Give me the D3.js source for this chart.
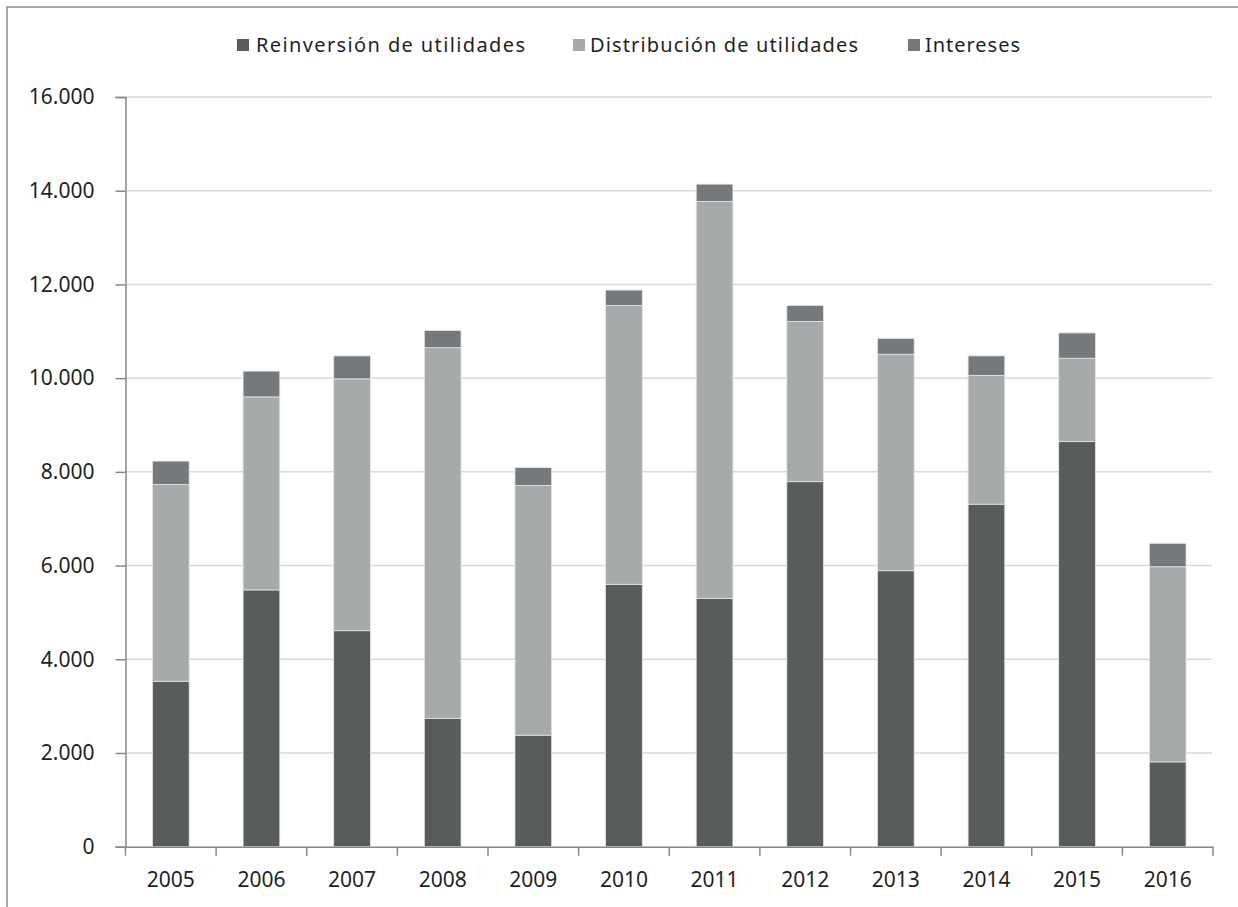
<!DOCTYPE html>
<html>
<head>
<meta charset="utf-8">
<script src="https://cdn.jsdelivr.net/npm/d3@7"></script>
<style>
  html, body { margin: 0; padding: 0; background: #fff; }
  svg { display: block; }
  text { font-family: "Noto Sans", "Open Sans", sans-serif; fill: #1f1f1f; }
</style>
</head>
<body>
<svg id="chart" width="1238" height="907"></svg>
<script>
// Years on the category axis
const years = ["2005","2006","2007","2008","2009","2010","2011","2012","2013","2014","2015","2016"];

// Stacked series, bottom to top
const reinversion  = [3530, 5480, 4610, 2740, 2380, 5600, 5300, 7790, 5890, 7310, 8645, 1810];
const distribucion = [4200, 4120, 5375, 7910, 5330, 5950, 8470, 3420, 4620, 2750, 1780, 4165];
const intereses    = [ 500,  550,  490,  365,  380,  330,  370,  340,  335,  415,  540,  500];

const seriesNames  = ["Reinversión de utilidades", "Distribución de utilidades", "Intereses"];
const yTicks       = [0, 2000, 4000, 6000, 8000, 10000, 12000, 14000, 16000];

const colors = ["#595c5d", "#a7aaab", "#76797b"];

const svg = d3.select("#chart");

// Outer frame
svg.append("rect")
  .attr("x", 7).attr("y", 7)
  .attr("width", 1300).attr("height", 1000)
  .attr("fill", "none")
  .attr("stroke", "#8c8c8c")
  .attr("stroke-width", 1.5);

const plotLeft = 125.5, plotRight = 1213, plotTop = 97, plotBottom = 846.7;

const x = d3.scaleBand()
  .domain(years)
  .range([plotLeft, plotRight])
  .paddingInner(0.595)
  .paddingOuter(0.2975);

const y = d3.scaleLinear()
  .domain([0, 16000])
  .range([plotBottom, plotTop]);

// Horizontal gridlines
svg.append("g")
  .selectAll("line")
  .data(yTicks.filter(d => d > 0))
  .join("line")
  .attr("x1", plotLeft).attr("x2", plotRight - 1)
  .attr("y1", d => y(d)).attr("y2", d => y(d))
  .attr("stroke", "#d9d9d9")
  .attr("stroke-width", 1.5);

// Stack the three series
const rows = years.map((yr, i) => ({
  year: yr,
  r: reinversion[i],
  d: distribucion[i],
  n: intereses[i]
}));
const stack = d3.stack().keys(["r", "d", "n"]);
const layers = stack(rows);

svg.append("g")
  .selectAll("g")
  .data(layers)
  .join("g")
  .attr("fill", (d, i) => colors[i])
  .selectAll("rect")
  .data(d => d)
  .join("rect")
  .attr("x", d => x(d.data.year))
  .attr("width", x.bandwidth())
  .attr("y", d => y(d[1]))
  .attr("height", d => y(d[0]) - y(d[1]))
  .attr("stroke", "#e4e6e6")
  .attr("stroke-width", 0.8);

// Y axis
const yAxis = svg.append("g")
  .attr("transform", `translate(${plotLeft},0)`)
  .call(d3.axisLeft(y)
    .tickValues(yTicks)
    .tickSize(10)
    .tickPadding(21)
    .tickFormat(d => d3.format(",")(d).replace(/,/g, ".")));
yAxis.select(".domain").attr("stroke", "#868686").attr("stroke-width", 1.5);
yAxis.selectAll(".tick line").attr("stroke", "#868686").attr("stroke-width", 1.5);
yAxis.selectAll(".tick text")
  .attr("font-size", 21)
  .attr("font-family", "'Noto Sans', sans-serif")
  .attr("fill", "#1f1f1f");

// X axis: category labels
const xAxis = svg.append("g")
  .attr("transform", `translate(0,${plotBottom})`)
  .call(d3.axisBottom(x).tickSize(0).tickPadding(25));
xAxis.select(".domain").attr("stroke", "#868686").attr("stroke-width", 1.5);
xAxis.selectAll(".tick text")
  .attr("font-size", 21)
  .attr("font-family", "'Noto Sans', sans-serif")
  .attr("fill", "#1f1f1f");

// Tick marks between categories
const step = x.step();
const boundaries = years.map(yr => x(yr) + x.bandwidth() / 2 - step / 2)
  .concat([x(years[years.length - 1]) + x.bandwidth() / 2 + step / 2]);
svg.append("g")
  .selectAll("line")
  .data(boundaries)
  .join("line")
  .attr("x1", d => d).attr("x2", d => d)
  .attr("y1", plotBottom).attr("y2", plotBottom + 9)
  .attr("stroke", "#868686")
  .attr("stroke-width", 1.5);

// Legend
const legendItems = [
  { name: seriesNames[0], color: colors[0], sx: 237, tx: 256, w: 269 },
  { name: seriesNames[1], color: colors[1], sx: 573, tx: 590, w: 268 },
  { name: seriesNames[2], color: colors[2], sx: 908, tx: 925, w: 95 }
];
const legend = svg.append("g");
legend.selectAll("rect")
  .data(legendItems)
  .join("rect")
  .attr("x", d => d.sx).attr("y", 39)
  .attr("width", 12).attr("height", 12)
  .attr("fill", d => d.color);
legend.selectAll("text")
  .data(legendItems)
  .join("text")
  .attr("x", d => d.tx).attr("y", 52)
  .attr("font-size", 20)
  .attr("textLength", d => d.w)
  .attr("lengthAdjust", "spacing")
  .text(d => d.name);
</script>
</body>
</html>
